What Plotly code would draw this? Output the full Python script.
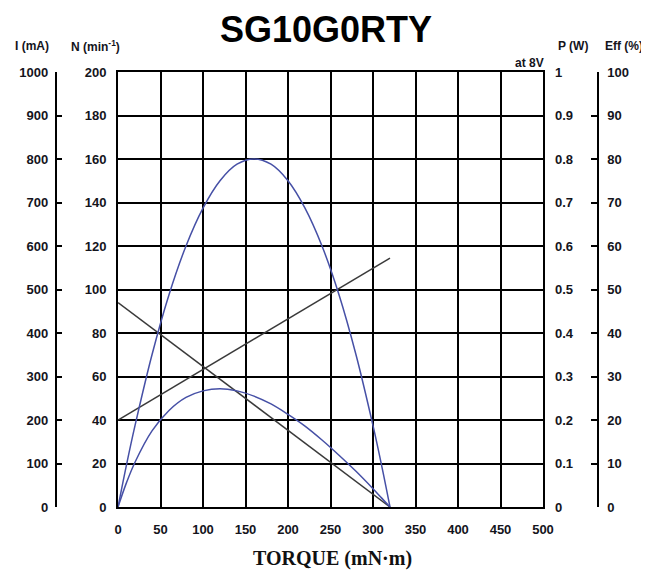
import plotly.graph_objects as go

# ---- data ----
torque = [0, 10, 20, 40, 60, 80, 100, 120, 140, 160, 180, 200, 220, 240, 260, 280, 300, 310, 320]
power_w = [0, 0.097, 0.187, 0.350, 0.488, 0.600, 0.687, 0.750, 0.788, 0.800, 0.788, 0.750,
           0.687, 0.600, 0.488, 0.350, 0.187, 0.097, 0]
eff_pct = [0, 5.6, 10.3, 17.5, 22.2, 25.2, 26.7, 27.2, 26.7, 25.5, 23.7, 21.3,
           18.6, 15.4, 11.9, 8.2, 4.2, 2.1, 0]
line_torque = [0, 320]
speed_rpm = [94, 0]
current_ma = [200, 572]

x_ticks = [0, 50, 100, 150, 200, 250, 300, 350, 400, 450, 500]
n_ticks = [0, 20, 40, 60, 80, 100, 120, 140, 160, 180, 200]
i_ticks = [0, 100, 200, 300, 400, 500, 600, 700, 800, 900, 1000]
p_ticks = [0, 0.1, 0.2, 0.3, 0.4, 0.5, 0.6, 0.7, 0.8, 0.9, 1]
p_labels = ["0", "0.1", "0.2", "0.3", "0.4", "0.5", "0.6", "0.7", "0.8", "0.9", "1"]
e_ticks = [0, 10, 20, 30, 40, 50, 60, 70, 80, 90, 100]

# page body has an 8px margin, so the figure is placed at (8, 8)
OFF = 8
W, H = 649 - OFF, 571 - OFF
def px(x): return (x - OFF) / W
def py(y): return 1 - (y - OFF) / H

FONT = "Liberation Sans, Arial, sans-serif"
tickfont = dict(family=FONT, size=13, color="#14141c", weight="bold")
BLUE = "#4650a6"
DARK = "#3a3a3a"

fig = go.Figure()
fig.add_trace(go.Scatter(x=torque, y=power_w, yaxis="y3", mode="lines",
                         line=dict(color=BLUE, width=1.5, shape="spline"), name="P"))
fig.add_trace(go.Scatter(x=torque, y=eff_pct, yaxis="y4", mode="lines",
                         line=dict(color=BLUE, width=1.5, shape="spline"), name="Eff"))
fig.add_trace(go.Scatter(x=line_torque, y=speed_rpm, yaxis="y", mode="lines",
                         line=dict(color=DARK, width=1.5), name="N"))
fig.add_trace(go.Scatter(x=line_torque, y=current_ma, yaxis="y2", mode="lines",
                         line=dict(color=DARK, width=1.5), name="I"))

ydom = [py(507), py(72)]
fig.update_layout(
    width=W, height=H,
    margin=dict(l=0, r=0, t=0, b=0, autoexpand=False),
    paper_bgcolor="white", plot_bgcolor="white",
    showlegend=False,
    xaxis=dict(domain=[px(118), px(543)], range=[0, 500], tickvals=x_ticks,
               showgrid=True, gridcolor="black", gridwidth=2, zeroline=False,
               showline=True, mirror=True, linecolor="black", linewidth=2,
               ticks="", tickfont=tickfont, ticklabelstandoff=9, automargin=False),
    yaxis=dict(domain=ydom, range=[0, 200], tickvals=n_ticks,
               showgrid=True, gridcolor="black", gridwidth=2, zeroline=False,
               showline=True, mirror=True, linecolor="black", linewidth=2,
               ticks="", tickfont=tickfont, ticklabelstandoff=7, automargin=False),
    yaxis2=dict(overlaying="y", anchor="free", position=px(55.5), side="left",
                range=[0, 1000], tickvals=i_ticks, showgrid=False, zeroline=False,
                showline=True, linecolor="black", linewidth=1.5,
                ticks="inside", ticklen=6, tickwidth=1.5, tickcolor="black",
                tickfont=tickfont, ticklabelstandoff=4, automargin=False),
    yaxis3=dict(overlaying="y", anchor="x", side="right", range=[0, 1],
                tickvals=p_ticks, ticktext=p_labels, showgrid=False, zeroline=False,
                showline=False, ticks="", tickfont=tickfont, ticklabelstandoff=11,
                automargin=False),
    yaxis4=dict(overlaying="y", anchor="free", position=px(598), side="right",
                range=[0, 100], tickvals=e_ticks, showgrid=False, zeroline=False,
                showline=True, linecolor="black", linewidth=1.5,
                ticks="inside", ticklen=6, tickwidth=1.5, tickcolor="black",
                tickfont=tickfont, ticklabelstandoff=6, automargin=False),
)

hdr = dict(family=FONT, size=12, color="#14141c", weight="bold")
annotations = [
    dict(text="SG10G0RTY", x=px(326), y=py(30), xanchor="center", yanchor="middle",
         font=dict(family=FONT, size=36, color="black", weight="bold")),
    dict(text="I (mA)", x=px(13), y=py(46), xanchor="left", yanchor="middle", font=hdr),
    dict(text="N (min<sup>-1</sup>)", x=px(69), y=py(46), xanchor="left", yanchor="middle", font=hdr),
    dict(text="P (W)", x=px(556), y=py(46), xanchor="left", yanchor="middle", font=hdr),
    dict(text="Eff (%)", x=px(603), y=py(46), xanchor="left", yanchor="middle", font=hdr),
    dict(text="at 8V", x=px(546), y=py(63), xanchor="right", yanchor="middle", font=hdr),
    dict(text="TORQUE (mN·m)", x=px(333), y=py(558), xanchor="center", yanchor="middle",
         font=dict(family="Liberation Serif, serif", size=20, color="#111", weight="bold")),
]
for a in annotations:
    a.update(xref="paper", yref="paper", showarrow=False)
fig.update_layout(annotations=annotations)

fig.write_html("out.html")
